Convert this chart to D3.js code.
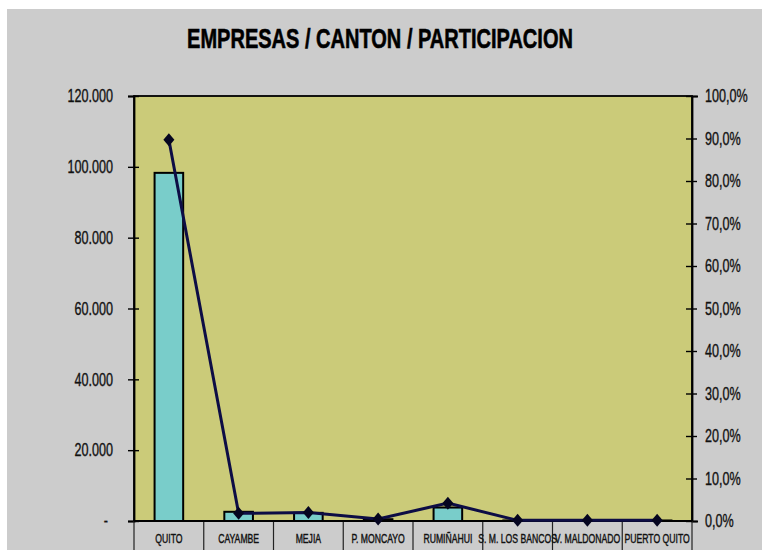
<!DOCTYPE html>
<html>
<head>
<meta charset="utf-8">
<script src="https://cdn.jsdelivr.net/npm/d3@7"></script>
<style>
  html, body { margin: 0; padding: 0; background: #ffffff; }
  svg { display: block; font-family: "Liberation Sans", Arial, sans-serif; }
</style>
</head>
<body>
<svg id="chart" width="762" height="550"></svg>
<script>
// Cantones y número de empresas, con su participación porcentual
const cantones = ["QUITO", "CAYAMBE", "MEJIA", "P. MONCAYO", "RUMIÑAHUI", "S. M. LOS BANCOS", "V. MALDONADO", "PUERTO QUITO"];
const empresas = [98300, 2600, 2300, 500, 3800, 150, 150, 150];
const participacion = [89.7, 1.8, 2.0, 0.5, 4.2, 0.15, 0.15, 0.15];
const ticksEmpresas = [0, 20000, 40000, 60000, 80000, 100000, 120000];
const ticksParticipacion = [0, 10, 20, 30, 40, 50, 60, 70, 80, 90, 100];
const titulo = "EMPRESAS / CANTON / PARTICIPACION";

const svg = d3.select("#chart");
const W = 762, H = 550;
const plot = { left: 134, right: 692, top: 96, bottom: 521 };
const squeeze = 0.7; // narrow lettering

const es = d3.formatLocale({ decimal: ",", thousands: ".", grouping: [3], currency: ["", ""] });
const fmtNum = d => d === 0 ? "-" : es.format(",")(d);
const fmtPct = d => es.format(".1%")(d / 100);

// panel background
svg.append("rect").attr("x", 7).attr("y", 9).attr("width", W - 7).attr("height", H - 9)
  .attr("fill", "#cccccc");

// title
svg.append("text")
  .attr("transform", `translate(380,48) scale(0.715,1)`)
  .attr("text-anchor", "middle")
  .attr("font-size", 28).attr("font-weight", "bold").attr("fill", "#000")
  .attr("stroke", "#000").attr("stroke-width", 0.6)
  .text(titulo);

const x = d3.scaleBand().domain(cantones).range([plot.left, plot.right]).padding(0);
const y = d3.scaleLinear().domain([0, 120000]).range([plot.bottom, plot.top]);
const y2 = d3.scaleLinear().domain([0, 100]).range([plot.bottom, plot.top]);

// plot area
svg.append("rect")
  .attr("x", plot.left).attr("y", plot.top)
  .attr("width", plot.right - plot.left).attr("height", plot.bottom - plot.top)
  .attr("fill", "#cbcb79").attr("stroke", "#000").attr("stroke-width", 1.8);

// bars
const barW = x.bandwidth() * 0.41;
svg.append("g").selectAll("rect").data(empresas).join("rect")
  .attr("x", (d, i) => x(cantones[i]) + (x.bandwidth() - barW) / 2)
  .attr("y", d => y(d))
  .attr("width", barW)
  .attr("height", d => y(0) - y(d))
  .attr("fill", "#79cdca").attr("stroke", "#000").attr("stroke-width", 2);

// left axis
const axL = svg.append("g").attr("transform", `translate(${plot.left},0)`)
  .call(d3.axisLeft(y).tickValues(ticksEmpresas).tickFormat(fmtNum).tickSizeOuter(0).tickSize(6));
axL.select(".domain").attr("stroke", "#000").attr("stroke-width", 1.8);
axL.selectAll(".tick line").attr("x1", 5).attr("x2", -6).attr("stroke", "#000").attr("stroke-width", 1.4);
axL.selectAll(".tick text")
  .attr("x", 0)
  .attr("transform", d => `translate(${d === 0 ? -26 : -21},0) scale(${squeeze},1)`)
  .attr("font-size", 18).attr("fill", "#111").attr("stroke", "#111").attr("stroke-width", 0.35)
  .attr("font-family", "Liberation Sans, Arial, sans-serif");

// right axis
const axR = svg.append("g").attr("transform", `translate(${plot.right},0)`)
  .call(d3.axisRight(y2).tickValues(ticksParticipacion).tickFormat(fmtPct).tickSizeOuter(0).tickSize(6));
axR.select(".domain").attr("stroke", "#000").attr("stroke-width", 1.8);
axR.selectAll(".tick line").attr("x1", -6).attr("x2", 5).attr("stroke", "#000").attr("stroke-width", 1.4);
axR.selectAll(".tick text")
  .attr("x", 0)
  .attr("transform", `translate(13,0) scale(${squeeze},1)`)
  .attr("font-size", 18).attr("fill", "#111").attr("stroke", "#111").attr("stroke-width", 0.35)
  .attr("font-family", "Liberation Sans, Arial, sans-serif");

// category axis: separators and labels
const cat = svg.append("g");
const bounds = cantones.map(c => x(c)).concat([x(cantones[cantones.length - 1]) + x.bandwidth()]);
cat.selectAll("line").data(bounds).join("line")
  .attr("x1", d => d).attr("x2", d => d)
  .attr("y1", plot.bottom).attr("y2", H)
  .attr("stroke", "#222").attr("stroke-width", 1.2);
cat.append("line").attr("x1", plot.left).attr("x2", plot.right)
  .attr("y1", plot.bottom).attr("y2", plot.bottom)
  .attr("stroke", "#000").attr("stroke-width", 2);
cat.selectAll("text").data(cantones).join("text")
  .attr("transform", d => `translate(${x(d) + x.bandwidth() / 2},543) scale(0.64,1)`)
  .attr("text-anchor", "middle")
  .attr("font-size", 13.5).attr("fill", "#111").attr("stroke", "#111").attr("stroke-width", 0.45)
  .text(d => d);

// participation line with diamond markers
const cx = i => x(cantones[i]) + x.bandwidth() / 2;
const line = d3.line().x((d, i) => cx(i)).y(d => y2(d));
svg.append("path").datum(participacion)
  .attr("d", line)
  .attr("fill", "none").attr("stroke", "#0d0d45").attr("stroke-width", 3);

const mw = 5.5, mh = 6.5;
svg.append("g").selectAll("path").data(participacion).join("path")
  .attr("transform", (d, i) => `translate(${cx(i)},${y2(d)})`)
  .attr("d", `M0,${-mh}L${mw},0L0,${mh}L${-mw},0Z`)
  .attr("fill", "#050520");
</script>
</body>
</html>
